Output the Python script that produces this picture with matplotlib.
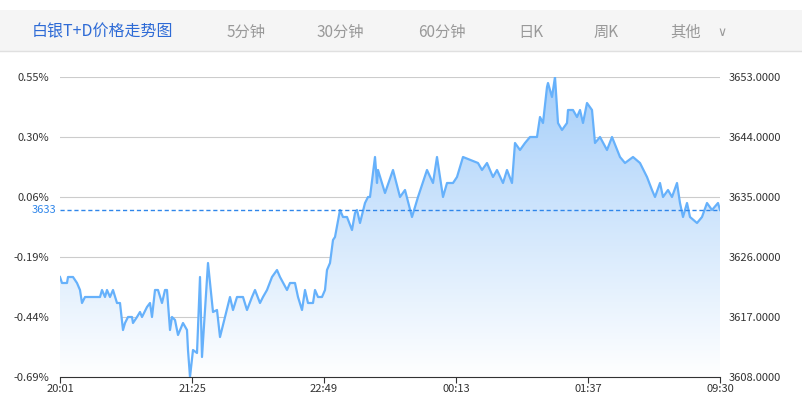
import matplotlib.pyplot as plt
import numpy as np
from matplotlib.patches import Polygon, Rectangle

plt.rcParams['font.family'] = ['Noto Sans CJK SC', 'DejaVu Sans']

# position along the session (0 = 20:01, 660 = 09:30)
t = [0, 2, 7, 8, 13, 17, 20, 22, 25, 40, 42, 45, 47, 50, 53, 57, 60, 63, 65, 68, 72, 73, 77, 80, 82,
     87, 90, 92, 95, 98, 102, 105, 107, 110, 112, 115, 118, 123, 127, 128, 130, 133, 137, 140, 142,
     145, 148, 153, 157, 160, 165, 170, 173, 177, 183, 187, 192, 195, 200, 203, 207, 212, 217, 220,
     227, 230, 235, 238, 242, 245, 248, 253, 255, 258, 262, 265, 267, 270, 273, 275, 280, 283, 287,
     292, 295, 297, 300, 305, 308, 310, 315, 317, 318, 325, 333, 340, 345, 352, 358, 367, 373, 377,
     380, 383, 387, 393, 397, 403, 418, 422, 427, 433, 437, 443, 447, 452, 455, 460, 465, 470, 477,
     480, 483, 487, 488, 492, 495, 498, 502, 507, 508, 513, 517, 520, 523, 527, 532, 535, 540, 547,
     552, 560, 565, 573, 580, 587, 592, 595, 600, 603, 608, 612, 617, 620, 623, 627, 630, 637, 642,
     647, 652, 658, 660]
price = [3623.0, 3622.1, 3622.1, 3623.0, 3623.0, 3622.1, 3621.05, 3619.1, 3620.0, 3620.0, 3621.05,
         3620.0, 3621.05, 3620.0, 3621.05, 3619.1, 3619.1, 3615.05, 3616.1, 3617.0, 3617.0, 3616.1,
         3617.0, 3617.75, 3617.0, 3618.5, 3619.1, 3617.0, 3621.05, 3621.05, 3619.1, 3621.05, 3621.05,
         3615.05, 3617.0, 3616.55, 3614.3, 3616.1, 3615.05, 3612.05, 3608.0, 3612.05, 3611.6, 3623.0,
         3611.0, 3618.05, 3625.1, 3617.75, 3618.05, 3614.0, 3617.0, 3620.0, 3618.05, 3620.0, 3620.0,
         3618.05, 3620.0, 3621.05, 3619.1, 3620.0, 3621.05, 3623.0, 3624.05, 3623.0, 3621.05, 3622.1,
         3622.1, 3620.0, 3618.05, 3621.05, 3619.1, 3619.1, 3621.05, 3620.0, 3620.0, 3621.05, 3624.05,
         3625.1, 3628.55, 3629.0, 3633.05, 3632.0, 3632.0, 3630.05, 3632.6, 3633.05, 3631.1, 3634.1,
         3635.0, 3635.0, 3641.0, 3637.1, 3639.05, 3635.6, 3639.05, 3635.0, 3636.05, 3632.0, 3635.0,
         3639.05, 3637.1, 3641.0, 3638.0, 3635.0, 3637.1, 3637.1, 3638.0, 3641.0, 3640.1, 3639.05,
         3640.1, 3638.0, 3639.05, 3637.1, 3639.05, 3637.1, 3643.1, 3642.05, 3643.1, 3644.0, 3644.0,
         3647.0, 3646.1, 3651.5, 3652.1, 3650.0, 3653.0, 3646.1, 3645.05, 3646.1, 3648.05, 3648.05,
         3647.0, 3648.05, 3646.1, 3649.1, 3648.05, 3643.1, 3644.0, 3642.05, 3644.0, 3641.0, 3640.1,
         3641.0, 3640.1, 3638.0, 3636.05, 3635.0, 3637.1, 3635.0, 3636.05, 3635.0, 3637.1, 3634.1,
         3632.0, 3634.1, 3632.0, 3631.1, 3632.0, 3634.1, 3633.05, 3634.1, 3633.05]
base = 3633.0
right_ticks = [3653.0, 3644.0, 3635.0, 3626.0, 3617.0, 3608.0]
left_labels = ['0.55%', '0.30%', '0.06%', '-0.19%', '-0.44%', '-0.69%']
x_ticks = [0, 132, 264, 396, 528, 660]
x_labels = ['20:01', '21:25', '22:49', '00:13', '01:37', '09:30']
tabs = ['5分钟', '30分钟', '60分钟', '日K', '周K', '其他']
tab_x = [246, 340, 442, 531, 606, 686]

fig = plt.figure(figsize=(8.02, 4.03), dpi=100)
W, H = 802, 403
fig.patches.append(Rectangle((0, 1 - 51 / H), 1, 41 / H, transform=fig.transFigure,
                             facecolor='#f5f5f5', edgecolor='none'))
fig.lines.append(plt.Line2D([0, 1], [1 - 51 / H] * 2, transform=fig.transFigure, color='#e0e0e0', lw=1))
fig.text(32 / W, 1 - 32 / H, '白银T+D价格走势图', color='#2e6bd6', fontsize=11.5, va='center')
for s, x in zip(tabs, tab_x):
    fig.text(x / W, 1 - 32 / H, s, color='#999999', fontsize=11, va='center', ha='center')
fig.text(722 / W, 1 - 32 / H, '∨', color='#999999', fontsize=9, va='center', ha='center', family='DejaVu Sans')

ax = fig.add_axes([60 / W, 1 - 377 / H, 660 / W, 300 / H])
ax.set_xlim(0, 660)
ax.set_ylim(3608, 3653)

tt = np.array(t)
pp = np.array(price)
img = np.linspace(0, 1, 256).reshape(-1, 1)
from matplotlib.colors import LinearSegmentedColormap
cmap = LinearSegmentedColormap.from_list('g', ['#ffffff', '#a6cffa'])
im = ax.imshow(img, cmap=cmap, aspect='auto', extent=[0, 660, 3608, 3653], origin='lower', zorder=1)
poly = Polygon(np.column_stack([np.r_[tt, tt[-1], tt[0]], np.r_[pp, 3608, 3608]]),
               closed=True, transform=ax.transData, facecolor='none', edgecolor='none')
ax.add_patch(poly)
im.set_clip_path(poly)
ax.plot(tt, pp, color='#66b1fb', lw=1.6, zorder=3)

for v in right_ticks[:-1]:
    ax.axhline(v, color='#cccccc', lw=0.8, zorder=0)
ax.axhline(base, color='#2f86ea', lw=1, ls=(0, (3, 2)), zorder=4)
ax.text(-4, base, '3633', color='#2f86ea', fontsize=8, ha='right', va='center', clip_on=False)

for s in ['top', 'left', 'right']:
    ax.spines[s].set_visible(False)
ax.spines['bottom'].set_color('#333333')
ax.set_xticks(x_ticks)
ax.set_xticklabels(x_labels)
ax.tick_params(axis='x', colors='#333333', labelsize=8, length=4, pad=1)
ax.set_yticks(right_ticks)
ax.set_yticklabels(left_labels)
ax.tick_params(axis='y', length=0, labelsize=8, colors='#333333', pad=8)
ax2 = ax.twinx()
ax2.set_ylim(3608, 3653)
ax2.set_yticks(right_ticks)
ax2.set_yticklabels(['%.4f' % v for v in right_ticks])
ax2.tick_params(axis='y', length=0, labelsize=8, colors='#333333', pad=6)
for s in ['top', 'left', 'right', 'bottom']:
    ax2.spines[s].set_visible(False)

fig.savefig('out.png', dpi=100)
